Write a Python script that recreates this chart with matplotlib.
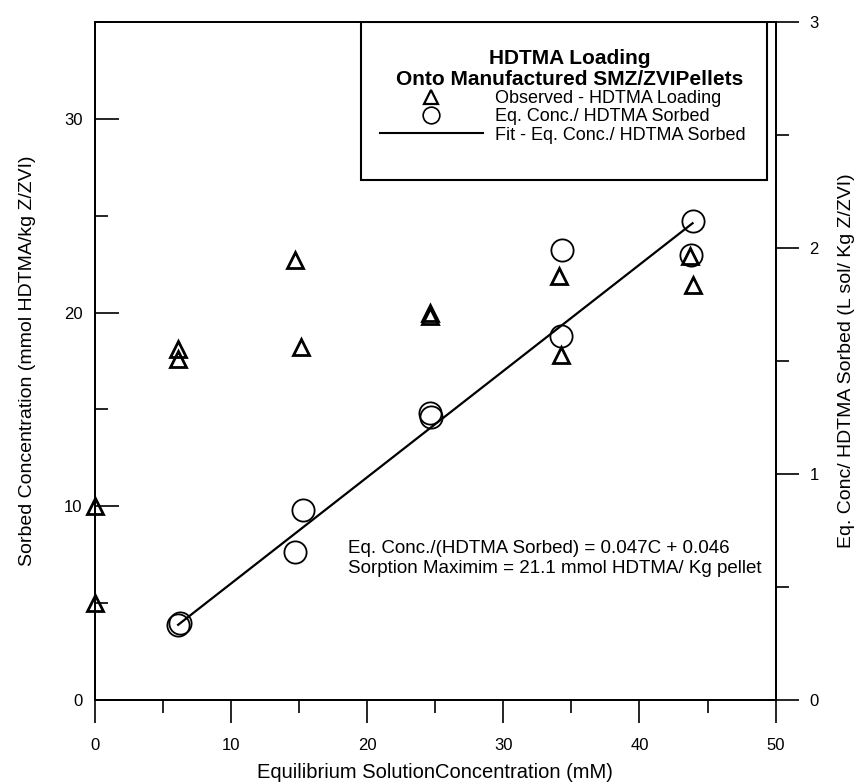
import matplotlib
matplotlib.use("Agg")
import matplotlib.pyplot as plt
import numpy as np
from matplotlib.lines import Line2D
from matplotlib.patches import Rectangle
from matplotlib.ticker import MultipleLocator

plt.rcParams['font.family'] = ['Liberation Sans', 'DejaVu Sans']

# observed HDTMA loading (left axis, mmol/kg)
tri_x = [0, 0, 6.1, 6.1, 14.7, 15.1, 24.6, 24.6, 34.1, 34.2, 43.7, 43.9]
tri_y = [10, 5, 18.1, 17.6, 22.7, 18.2, 20.0, 19.8, 21.9, 17.8, 22.9, 21.4]

# eq. conc. / sorbed (right axis, L/kg)
circ_x = [6.1, 6.2, 14.7, 15.3, 24.6, 24.7, 34.3, 34.2, 43.9, 43.8]
circ_y = [0.33, 0.34, 0.655, 0.84, 1.27, 1.25, 1.99, 1.61, 2.12, 1.97]

# linear fit C/q = a*C + b
fit_a = 0.047
fit_b = 0.046
fit_range = [6.1, 43.9]

fig = plt.figure(figsize=(8.57, 7.83), dpi=100)
ax = fig.add_axes([0.111, 0.106, 0.794, 0.866])
ax2 = ax.twinx()

ax.plot(tri_x, tri_y, linestyle='none', marker='^', ms=12, mfc='none',
        mec='black', mew=2.0, clip_on=False, zorder=5)

fx = np.array(fit_range)
ax2.plot(fx, fit_a * fx + fit_b, color='black', lw=1.6)
ax2.plot(circ_x, circ_y, linestyle='none', marker='o', ms=16, mfc='none',
         mec='black', mew=1.3)

ax.set_xlim(0, 50)
ax.set_ylim(0, 35)
ax2.set_ylim(0, 3)

ax.xaxis.set_major_locator(MultipleLocator(10))
ax.xaxis.set_minor_locator(MultipleLocator(5))
ax.yaxis.set_major_locator(MultipleLocator(10))
ax.yaxis.set_minor_locator(MultipleLocator(5))
ax2.yaxis.set_major_locator(MultipleLocator(1))
ax2.yaxis.set_minor_locator(MultipleLocator(0.5))

ax.tick_params(axis='x', which='major', direction='out', length=16.5, width=1.2,
               pad=11, labelsize=12)
ax.tick_params(axis='x', which='minor', direction='out', length=9, width=1.2)
ax.tick_params(axis='y', which='major', direction='in', length=17, width=1.2,
               pad=9, labelsize=12)
ax.tick_params(axis='y', which='minor', direction='in', length=9, width=1.2)
ax2.tick_params(axis='y', which='major', direction='out', length=16.5, width=1.2,
                pad=8, labelsize=12)
ax2.tick_params(axis='y', which='minor', direction='out', length=9, width=1.2)

for a in (ax, ax2):
    for s in a.spines.values():
        s.set_linewidth(1.3)

ax.set_xlabel('Equilibrium SolutionConcentration (mM)', fontsize=14.5, labelpad=7)
ax.set_ylabel('Sorbed Concentration (mmol HDTMA/kg Z/ZVI)', fontsize=14, labelpad=20)
ax2.set_ylabel('Eq. Conc/ HDTMA Sorbed (L sol/ Kg Z/ZVI)', fontsize=14, labelpad=14)

ax.text(18.6, 7.3,
        'Eq. Conc./(HDTMA Sorbed) = %.3fC + %.3f\n'
        'Sorption Maximim = 21.1 mmol HDTMA/ Kg pellet' % (fit_a, fit_b),
        fontsize=13.5, va='center', ha='left', linespacing=1.2)

# legend box sitting against the top of the frame
ax2.add_patch(Rectangle((0.39, 0.767), 0.597, 0.233, transform=ax2.transAxes,
                        facecolor='white', edgecolor='black', lw=1.5, zorder=6))
ax2.text(0.6975, 0.9307, 'HDTMA Loading\nOnto Manufactured SMZ/ZVIPellets',
         transform=ax2.transAxes, ha='center', va='center', multialignment='center',
         fontsize=15, fontweight='bold', linespacing=1.12, zorder=7)
handles = [
    Line2D([], [], linestyle='none', marker='^', ms=10.5, mfc='none', mec='black', mew=1.6),
    Line2D([], [], linestyle='none', marker='o', ms=12, mfc='none', mec='black', mew=1.2),
    Line2D([], [], color='black', lw=1.5),
]
labels = ['Observed - HDTMA Loading', 'Eq. Conc./ HDTMA Sorbed',
          'Fit - Eq. Conc./ HDTMA Sorbed']
leg = ax2.legend(handles, labels, loc='center', bbox_to_anchor=(0.6872, 0.8600),
                 frameon=False, fontsize=13, handlelength=5.7, handletextpad=0.7,
                 labelspacing=0.08, borderpad=0)
leg.set_zorder(7)

fig.savefig('out.png', dpi=100)
